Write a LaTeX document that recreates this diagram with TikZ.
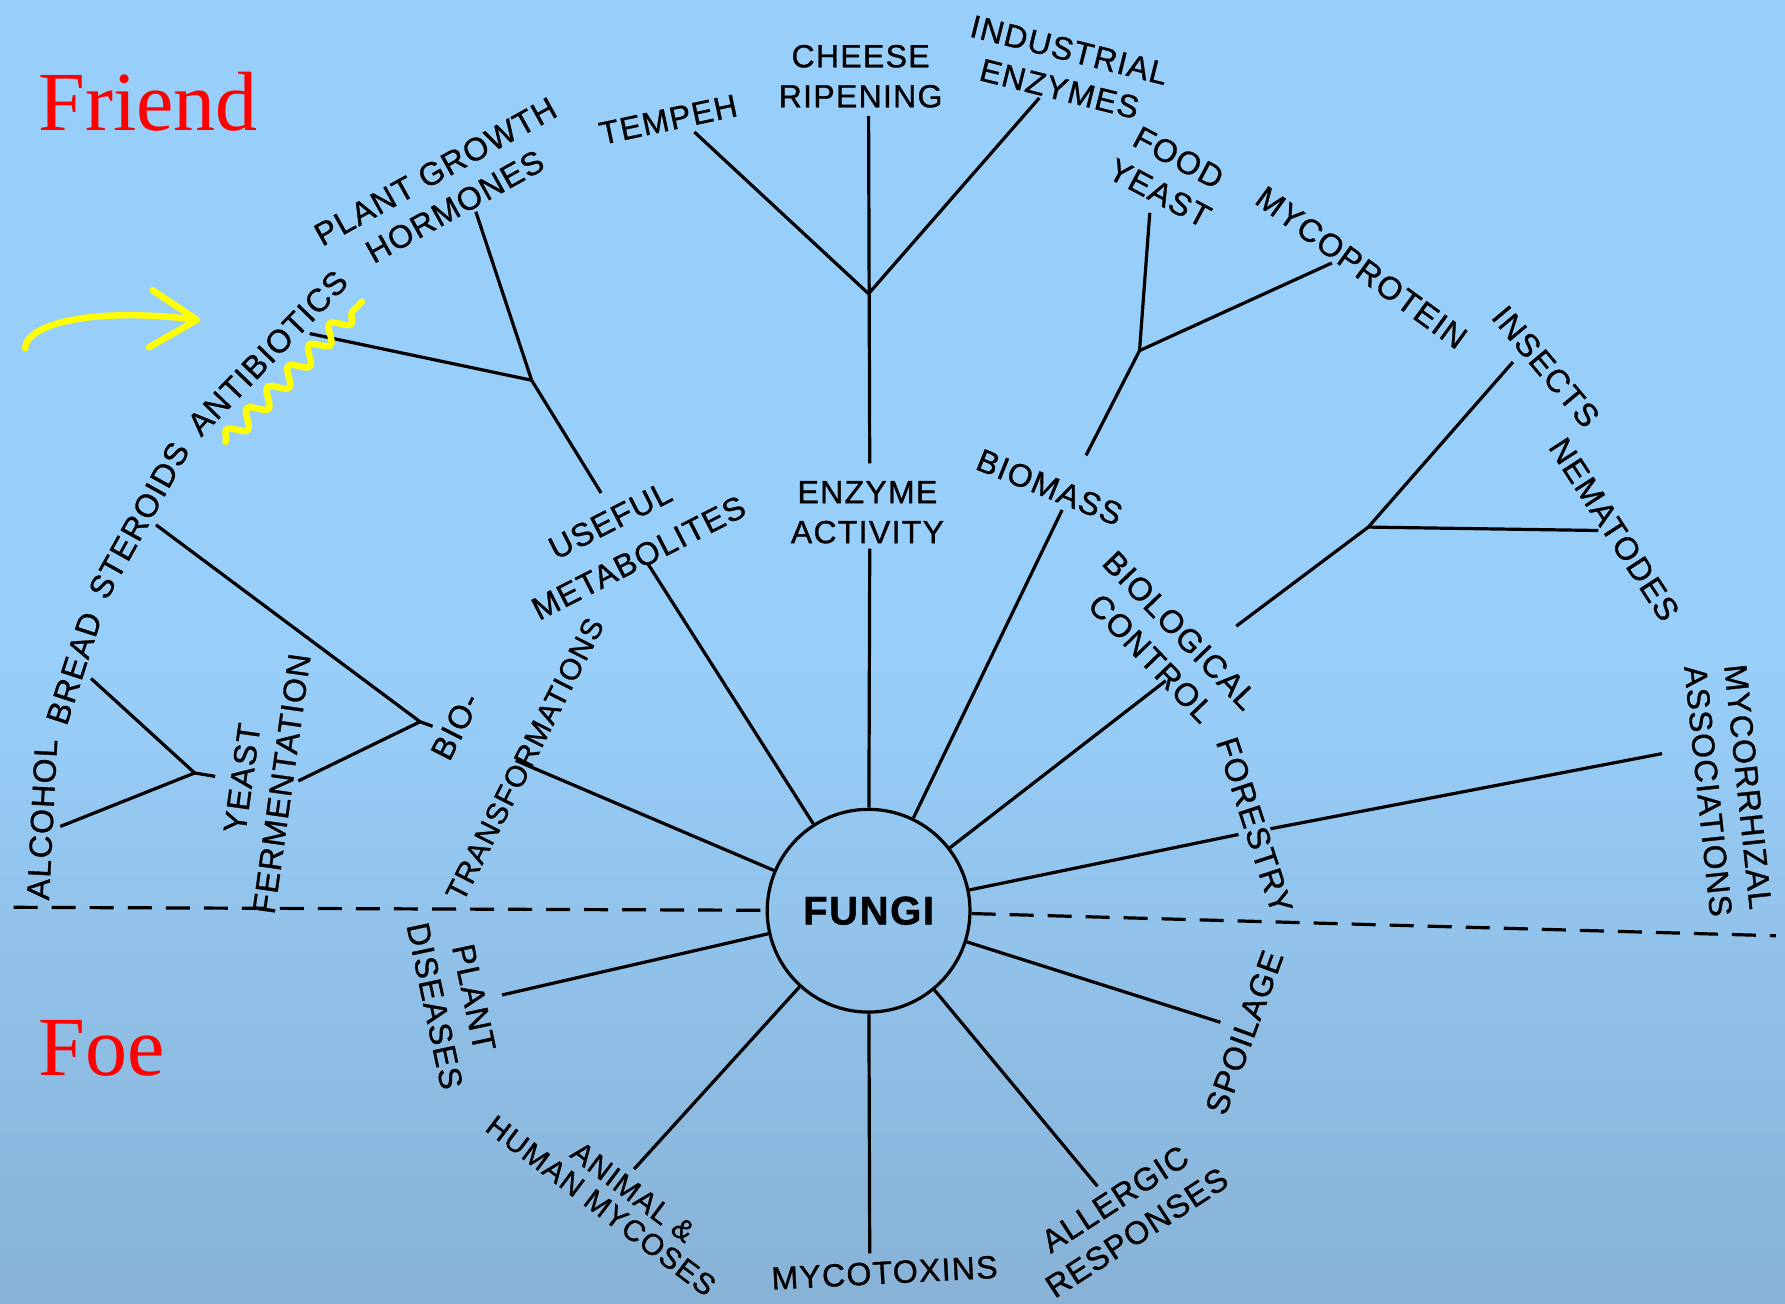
\documentclass[tikz,border=0pt]{standalone}
\usepackage{fontspec}
\setmainfont{Liberation Serif}
\newfontfamily\labelfont{Liberation Sans}[LetterSpace=4.0, FakeBold=1]
\usetikzlibrary{decorations.pathmorphing}

\definecolor{bgtop}{HTML}{98CFFA}
\definecolor{bgbot}{HTML}{88B2D6}
\definecolor{hiyellow}{HTML}{FFFF00}

\tikzset{
  lbl/.style={font=\labelfont\fontsize{8}{10}\selectfont, align=center, inner sep=1pt},
  small/.style={font=\labelfont\fontsize{7.4}{9}\selectfont},
  hub/.style={circle, draw, line width=0.8pt, minimum size=1.78cm, inner sep=0pt,
    font=\labelfont\bfseries\fontsize{10}{12}\selectfont},
  branch/.style={line width=0.8pt},
  divider/.style={line width=0.8pt, dash pattern=on 6pt off 3.5pt},
  side/.style={red, font=\fontsize{21}{25}\selectfont, inner sep=0pt, anchor=base west},
  scribble/.style={hiyellow, line width=1.6pt, line cap=round, line join=round}
}

\begin{document}
\begin{tikzpicture}[x=0.01cm, y=-0.01cm]
    \shade [top color=bgtop, bottom color=bgbot, middle color=bgtop] (0,0) rectangle (1568,1145);
    \useasboundingbox (0,0) rectangle (1568,1145);

    \node (friend) [side] at (33,115) {Friend};
    \node (foe) [side] at (33,945) {Foe};

    \node (fungi) [hub] at (763,800) {FUNGI};

    % inner ring
    \node (yeastferm) [lbl, rotate=82] at (230,686) {YEAST\\FERMENTATION};
    \node (bio) [lbl, rotate=63] at (400,638) {BIO-};
    \node (transf) [lbl, small, rotate=63] at (461,667) {TRANSFORMATIONS};
    \node (useful) [lbl, rotate=27] at (536,457) {USEFUL};
    \node (metab) [lbl, rotate=27] at (561,490) {METABOLITES};
    \node (enzact) [lbl] at (762,450) {ENZYME\\ACTIVITY};
    \node (biomass) [lbl, rotate=-22] at (922,428) {BIOMASS};
    \node (biocon) [lbl, rotate=-46] at (1024,566) {BIOLOGICAL\\CONTROL};
    \node (forestry) [lbl, rotate=-72] at (1102,725) {FORESTRY};
    \node (plantdis) [lbl, rotate=-78] at (399,880) {PLANT\\DISEASES};
    \node (animal) [lbl, small, rotate=-37] at (556,1047) {ANIMAL \&};
    \node (humanmyc) [lbl, small, rotate=-37] at (528,1059) {HUMAN MYCOSES};
    \node (mycotox) [lbl, rotate=3] at (777,1118) {MYCOTOXINS};
    \node (allergic) [lbl, rotate=33] at (989,1068) {ALLERGIC\\RESPONSES};
    \node (spoilage) [lbl, rotate=70] at (1093,907) {SPOILAGE};

    % outer ring
    \node (alcohol) [lbl, rotate=87] at (37,720) {ALCOHOL};
    \node (bread) [lbl, rotate=72] at (65,587) {BREAD};
    \node (steroids) [lbl, rotate=61] at (122,457) {STEROIDS};
    \node (antibio) [lbl, rotate=46] at (235,310) {ANTIBIOTICS};
    \node (hormones) [lbl, rotate=29] at (391,166) {PLANT GROWTH\\HORMONES};
    \node (tempeh) [lbl, rotate=12] at (587,105) {TEMPEH};
    \node (cheese) [lbl] at (756,67) {CHEESE\\RIPENING};
    \node (indenz) [lbl, rotate=-14] at (935,61) {INDUSTRIAL\\ENZYMES};
    \node (foodyeast) [lbl, rotate=-28] at (1027,154) {FOOD\\YEAST};
    \node (mycoprot) [lbl, rotate=-36] at (1196,235) {MYCOPROTEIN};
    \node (insects) [lbl, rotate=-50] at (1358,322) {INSECTS};
    \node (nematodes) [lbl, rotate=-57] at (1418,465) {NEMATODES};
    \node (mycorrh) [lbl, rotate=-84] at (1518,693) {MYCORRHIZAL\\ASSOCIATIONS};

    % spoke ends
    \coordinate (transfEnd) at (453,668);
    \coordinate (usefulEnd) at (569,495);
    \coordinate (enzEnd) at (764,482);
    \coordinate (biomassEnd) at (933,448);
    \coordinate (bioconEnd) at (1024,598);
    \coordinate (forestEnd) at (1088,733);
    \coordinate (plantEnd) at (441,874);
    \coordinate (mycosesEnd) at (557,1027);
    \coordinate (mycotoxEnd) at (764,1101);
    \coordinate (allergicEnd) at (964,1042);
    \coordinate (spoilEnd) at (1072,898);
    \coordinate (dashLeft) at (12,797);
    \coordinate (dashRight) at (1560,822);

    % branch points
    \coordinate (jYeast) at (171,679);
    \coordinate (yeastStub) at (189,682);
    \coordinate (alcoholEnd) at (53,726);
    \coordinate (breadEnd) at (80,596);
    \coordinate (jBio) at (369,634);
    \coordinate (bioStub) at (380,638);
    \coordinate (fermEnd) at (262,686);
    \coordinate (steroidsEnd) at (137,461);
    \coordinate (usefulTop) at (528,433);
    \coordinate (jUseful) at (467,334);
    \coordinate (hormonesEnd) at (418,186);
    \coordinate (antibioEnd) at (272,293);
    \coordinate (enzTop) at (764,407);
    \coordinate (jEnz) at (763,258);
    \coordinate (tempehEnd) at (610,116);
    \coordinate (cheeseEnd) at (763,102);
    \coordinate (indenzEnd) at (913,86);
    \coordinate (biomassTop) at (954,400);
    \coordinate (jBiomass) at (1001,308);
    \coordinate (foodEnd) at (1010,187);
    \coordinate (mycoprotEnd) at (1170,231);
    \coordinate (bioconTop) at (1086,550);
    \coordinate (jBiocon) at (1202,463);
    \coordinate (insectsEnd) at (1329,318);
    \coordinate (nematodesEnd) at (1404,466);
    \coordinate (forestTop) at (1116,728);
    \coordinate (mycorrhEnd) at (1460,662);

    \draw [divider] (dashLeft) -- (fungi);
    \draw [divider] (fungi) -- (dashRight);

    \draw [branch] (fungi) -- (transfEnd);
    \draw [branch] (fungi) -- (usefulEnd);
    \draw [branch] (fungi) -- (enzEnd);
    \draw [branch] (fungi) -- (biomassEnd);
    \draw [branch] (fungi) -- (bioconEnd);
    \draw [branch] (fungi) -- (forestEnd);
    \draw [branch] (fungi) -- (plantEnd);
    \draw [branch] (fungi) -- (mycosesEnd);
    \draw [branch] (fungi) -- (mycotoxEnd);
    \draw [branch] (fungi) -- (allergicEnd);
    \draw [branch] (fungi) -- (spoilEnd);

    \draw [branch] (alcoholEnd) -- (jYeast) -- (breadEnd);
    \draw [branch] (jYeast) -- (yeastStub);
    \draw [branch] (fermEnd) -- (jBio) -- (steroidsEnd);
    \draw [branch] (jBio) -- (bioStub);
    \draw [branch] (usefulTop) -- (jUseful) -- (hormonesEnd);
    \draw [branch] (jUseful) -- (antibioEnd);
    \draw [branch] (enzTop) -- (cheeseEnd);
    \draw [branch] (tempehEnd) -- (jEnz) -- (indenzEnd);
    \draw [branch] (biomassTop) -- (jBiomass) -- (foodEnd);
    \draw [branch] (jBiomass) -- (mycoprotEnd);
    \draw [branch] (bioconTop) -- (jBiocon) -- (insectsEnd);
    \draw [branch] (jBiocon) -- (nematodesEnd);
    \draw [branch] (forestTop) -- (mycorrhEnd);

    % yellow marks
    \coordinate (arrowTail) at (22,306);
    \coordinate (arrowTip) at (173,281);
    \coordinate (barbUp) at (134,255);
    \coordinate (barbDown) at (131,305);
    \coordinate (waveStart) at (198,388);
    \coordinate (waveEnd) at (318,265);
    \draw [scribble] (arrowTail) .. controls (24,282) and (90,270) .. (arrowTip);
    \draw [scribble] (barbUp) -- (arrowTip) -- (barbDown);
    \draw [scribble, decorate, decoration={snake, segment length=0.26cm, amplitude=0.07cm}] (waveStart) -- (waveEnd);
\end{tikzpicture}
\end{document}
